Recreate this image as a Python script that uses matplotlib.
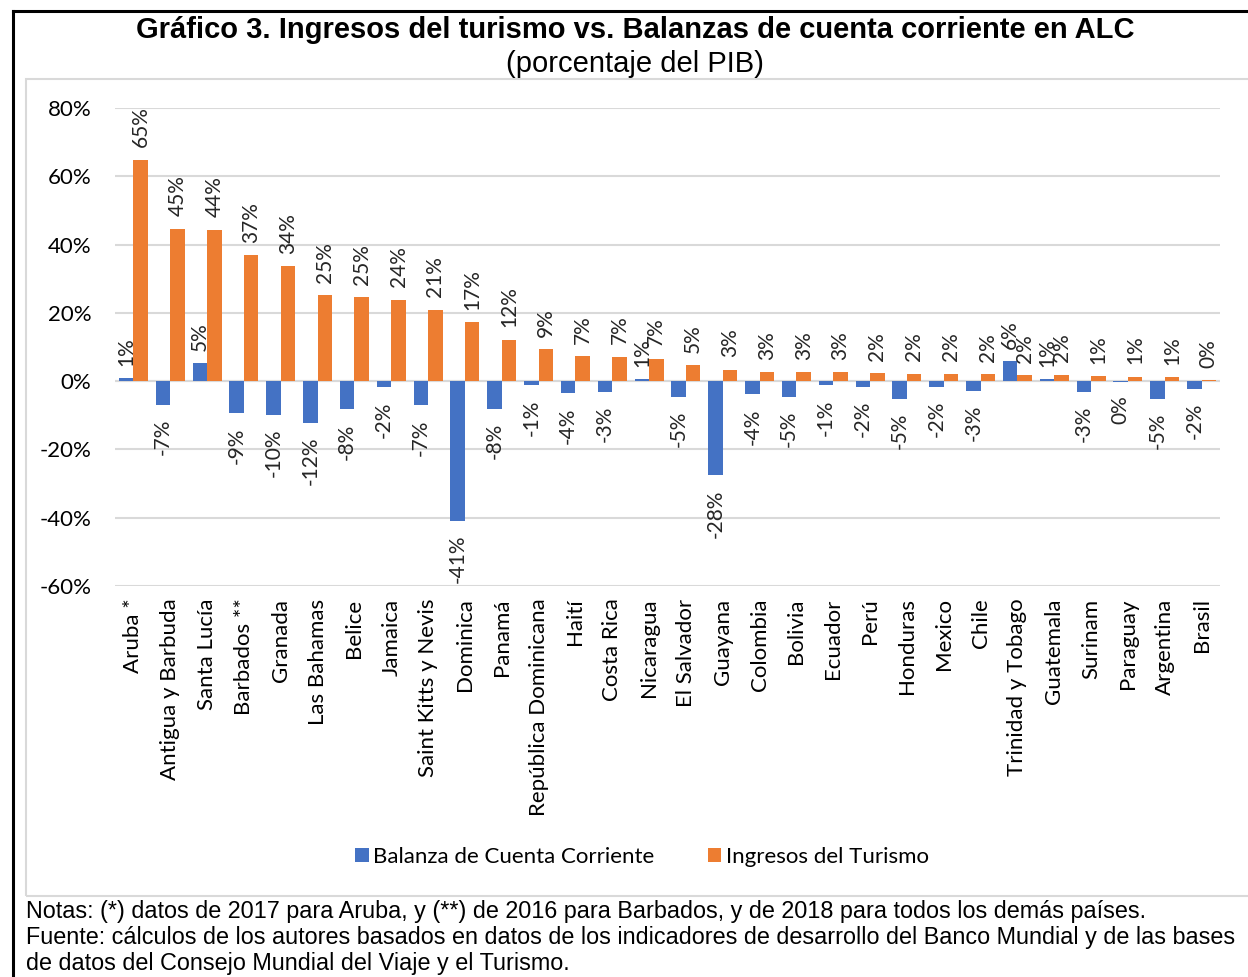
import numpy as np
import matplotlib.pyplot as plt
from matplotlib.patches import Rectangle
from matplotlib.lines import Line2D

# Data (percent of GDP)
paises = ["Aruba *", "Antigua y Barbuda", "Santa Lucía", "Barbados **", "Granada",
          "Las Bahamas", "Belice", "Jamaica", "Saint Kitts y Nevis", "Dominica",
          "Panamá", "República Dominicana", "Haití", "Costa Rica", "Nicaragua",
          "El Salvador", "Guayana", "Colombia", "Bolivia", "Ecuador",
          "Perú", "Honduras", "Mexico", "Chile", "Trinidad y Tobago",
          "Guatemala", "Surinam", "Paraguay", "Argentina", "Brasil"]
balanza_cc = [0.8, -6.9, 5.3, -9.4, -9.8, -12.2, -8.3, -1.8, -7.1, -40.9,
              -8.2, -1.2, -3.6, -3.2, 0.6, -4.6, -27.6, -3.9, -4.6, -1.2,
              -1.6, -5.1, -1.7, -2.8, 5.8, 0.6, -3.2, -0.2, -5.1, -2.2]
ingresos_tur = [64.8, 44.6, 44.3, 36.8, 33.6, 25.2, 24.6, 23.9, 20.9, 17.3,
                12.1, 9.3, 7.3, 7.1, 6.6, 4.7, 3.3, 2.6, 2.6, 2.6,
                2.3, 2.2, 2.1, 2.0, 1.7, 1.8, 1.4, 1.3, 1.1, 0.3]

azul = "#4472C4"
naranja = "#ED7D31"
gris = "#D9D9D9"
fuente_eje = "Lato"

fig = plt.figure(figsize=(12.48, 9.77), dpi=100)

# outer black frame and grey chart border (in pixels -> figure fraction)
W, H = 1248, 977
def fx(px):
    return px / W
def fy(py):
    return 1 - py / H

fig.add_artist(Line2D([fx(13), fx(13)], [fy(11), fy(980)], color="black", lw=2.2))
fig.add_artist(Line2D([fx(13), fx(1260)], [fy(11), fy(11)], color="black", lw=2.2))
fig.add_artist(Rectangle((fx(26), fy(896)), fx(1300) - fx(26), fy(79) - fy(896),
                         fill=False, edgecolor=gris, lw=1.5))

ax = fig.add_axes([fx(115), fy(586), fx(1220) - fx(115), fy(108) - fy(586)])

x = np.arange(len(paises))
w = 0.395
b1 = ax.bar(x - w / 2, balanza_cc, w, color=azul, label="Balanza de Cuenta Corriente", zorder=3)
b2 = ax.bar(x + w / 2, ingresos_tur, w, color=naranja, label="Ingresos del Turismo", zorder=3)

# data labels, rotated like the original
for bars, vals in ((b1, balanza_cc), (b2, ingresos_tur)):
    for rect, v in zip(bars, vals):
        xc = rect.get_x() + rect.get_width() / 2
        texto = f"{round(v):d}%"
        if v >= 0:
            ax.annotate(texto, (xc, v), xytext=(0, 9), textcoords="offset points",
                        rotation=90, ha="center", va="bottom", fontsize=15,
                        family=fuente_eje, color="#262626")
        else:
            ax.annotate(texto, (xc, v), xytext=(0, -10), textcoords="offset points",
                        rotation=90, ha="center", va="top", fontsize=15,
                        family=fuente_eje, color="#262626")

ax.set_xlim(-0.5, len(paises) - 0.5)
ax.set_ylim(-60, 80)
ax.set_yticks(np.arange(-60, 81, 20))
ax.set_yticklabels([f"{t}%" for t in range(-60, 81, 20)], family=fuente_eje, fontsize=16)
ax.set_xticks(x)
ax.set_xticklabels(paises, rotation=90, family=fuente_eje, fontsize=16, va="top")
ax.tick_params(length=0)
ax.tick_params(axis="x", pad=9)
ax.tick_params(axis="y", pad=17)
for s in ax.spines.values():
    s.set_visible(False)
ax.grid(axis="y", color=gris, lw=1.5, zorder=0)
ax.axhline(0, color=gris, lw=1.5, zorder=2)

fig.legend(handles=[b1, b2], loc="center", bbox_to_anchor=(fx(642), fy(857)), ncol=2,
           frameon=False, prop={"family": fuente_eje, "size": 16}, handlelength=0.6,
           handleheight=0.6, handletextpad=0.2, columnspacing=2.4)

fig.text(fx(635), fy(30), "Gráfico 3. Ingresos del turismo vs. Balanzas de cuenta corriente en ALC",
         ha="center", va="center", fontsize=21, fontweight="bold", family="Liberation Sans")
fig.text(fx(635), fy(64), "(porcentaje del PIB)", ha="center", va="center",
         fontsize=21, family="Liberation Sans")

notas = ("Notas: (*) datos de 2017 para Aruba, y (**) de 2016 para Barbados, y de 2018 para todos los demás países.\n"
         "Fuente: cálculos de los autores basados en datos de los indicadores de desarrollo del Banco Mundial y de las bases\n"
         "de datos del Consejo Mundial del Viaje y el Turismo.")
fig.text(fx(26), fy(900), notas, ha="left", va="top", fontsize=16.8, family="Liberation Sans",
         linespacing=1.18)

fig.savefig("out.png", dpi=100)
